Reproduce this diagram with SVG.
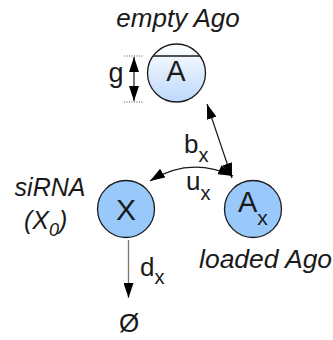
<svg xmlns="http://www.w3.org/2000/svg" width="333" height="340" viewBox="0 0 333 340">
  <style>
    .lbl { font-family: "Liberation Sans", Arial, sans-serif; fill: #1a1a1a; }
    .it { font-style: italic; }
    .node { stroke: #1a1a1a; stroke-width: 1.3; }
    .edge { fill: none; stroke: #1a1a1a; stroke-width: 1.2; }
    .guide { stroke: #555; stroke-width: 1; stroke-dasharray: 1 1.5; }
  </style>
  <defs>
    <linearGradient id="emptyFill" x1="0" y1="0" x2="0" y2="1">
      <stop offset="0" stop-color="#ffffff"/>
      <stop offset="1" stop-color="#bcd8fb"/>
    </linearGradient>
    <marker id="head" viewBox="0 0 15 10" refX="15" refY="5" markerWidth="15" markerHeight="10" markerUnits="userSpaceOnUse" orient="auto-start-reverse">
      <path d="M0,0 L15,5 L0,10 Z" fill="#000"/>
    </marker>
  </defs>

  <!-- empty Ago node -->
  <g id="empty-ago">
    <text class="lbl it" x="178" y="27" font-size="26" text-anchor="middle">empty Ago</text>
    <circle class="node" cx="176.5" cy="73" r="29" fill="url(#emptyFill)"/>
    <line x1="153" y1="56" x2="200" y2="56" stroke="#1a1a1a" stroke-width="1.3"/>
    <text class="lbl" x="176" y="81" font-size="29" text-anchor="middle">A</text>
  </g>

  <!-- gap size g -->
  <g id="gap">
    <line class="guide" x1="124" y1="56" x2="144" y2="56"/>
    <line class="guide" x1="124" y1="102" x2="144" y2="102"/>
    <line class="edge" x1="134" y1="57" x2="134" y2="101" marker-start="url(#head)" marker-end="url(#head)"/>
    <text class="lbl" x="116" y="82" font-size="27" text-anchor="middle">g</text>
  </g>

  <!-- siRNA node -->
  <g id="sirna">
    <circle class="node" cx="126" cy="209" r="28.5" fill="#99c9fb"/>
    <text class="lbl" x="126" y="220" font-size="30" text-anchor="middle">X</text>
    <text class="lbl it" x="50" y="196" font-size="25" text-anchor="middle">siRNA</text>
    <text class="lbl it" x="24" y="229" font-size="25">(X<tspan font-size="18" dy="7">0</tspan><tspan dy="-7">)</tspan></text>
  </g>

  <!-- loaded Ago node -->
  <g id="loaded-ago">
    <circle class="node" cx="253" cy="209" r="28.5" fill="#99c9fb"/>
    <text class="lbl" x="238" y="212" font-size="29">A<tspan font-size="21" dy="13">x</tspan></text>
    <text class="lbl it" x="199" y="268" font-size="26.5">loaded Ago</text>
  </g>

  <!-- sink -->
  <g id="sink">
    <text class="lbl" x="129" y="332" font-size="26" text-anchor="middle">Ø</text>
  </g>

  <!-- connectors -->
  <g id="connectors">
    <line class="edge" x1="207" y1="104" x2="232" y2="178" marker-start="url(#head)" marker-end="url(#head)"/>
    <path class="edge" d="M150,181 Q190,156 233,176" marker-start="url(#head)" marker-end="url(#head)"/>
    <line x1="128.5" y1="240" x2="128.5" y2="298" stroke="#777" stroke-width="1.3" marker-end="url(#head)"/>
    <text class="lbl" x="184" y="153" font-size="26">b<tspan font-size="20" dy="9">x</tspan></text>
    <text class="lbl" x="186" y="190" font-size="26">u<tspan font-size="20" dy="10">x</tspan></text>
    <text class="lbl" x="140" y="276" font-size="26">d<tspan font-size="20" dy="8">x</tspan></text>
  </g>
</svg>
